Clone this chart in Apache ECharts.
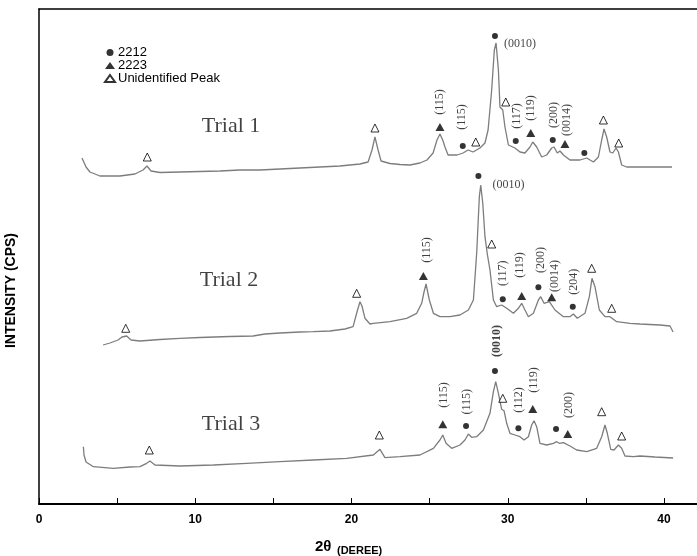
<!DOCTYPE html>
<html>
<head>
<meta charset="utf-8">
<script src="https://cdn.jsdelivr.net/npm/echarts@6/dist/echarts.min.js"></script>
<style>html,body{margin:0;padding:0;background:#fff;}#c{width:697px;height:556px;}</style>
</head>
<body>
<div id="c"></div>
<script>
// x: 2θ in degrees, y: intensity (arbitrary units, trials stacked with offsets)
const trial1 = [[2.75,346],[3.01,337],[3.26,332],[3.90,328],[5.18,328],[6.14,330],[6.66,334],[6.91,338],[7.17,333],[7.74,331.5],[9.02,332],[10.30,332.5],[11.58,333],[12.86,334],[14.14,334],[15.42,335],[16.70,336],[17.98,337],[19.26,338],[20.54,340],[21.06,342],[21.31,354],[21.50,367],[21.70,354],[21.89,343],[22.46,340.5],[23.10,339.5],[23.74,339],[24.38,341],[24.83,344],[25.22,351],[25.47,364],[25.66,370],[25.86,363],[25.98,357],[26.18,349],[26.75,349],[27.14,351],[27.46,354],[27.78,352],[28.22,356],[28.54,361],[28.74,374],[28.97,414],[29.14,454],[29.25,461],[29.40,434],[29.50,397],[29.68,394],[29.82,377],[30.04,359],[30.46,356],[30.78,352],[31.10,351],[31.42,357],[31.60,362],[31.85,357],[32.17,347],[32.49,349],[32.81,356],[32.96,357],[33.17,351],[33.34,353],[33.56,349],[33.98,344],[34.62,344],[35.05,346],[35.48,342],[35.80,347],[36.01,364],[36.16,375],[36.33,367],[36.54,352],[36.72,351],[36.93,356],[37.08,352],[37.29,339],[37.61,337],[38.46,337],[39.42,337],[40.51,337]];
const trial2 = [[4.10,159],[4.54,161],[5.06,164],[5.31,167],[5.61,168],[5.89,164],[6.46,163],[7.74,164.5],[9.02,165.7],[10.30,166.5],[12.22,167.5],[13.70,168],[14.46,170],[15.42,171],[16.70,172],[17.54,172.3],[18.62,173],[19.58,175],[20.10,177.3],[20.35,192],[20.54,202.3],[20.67,198],[20.86,185.7],[21.18,180],[21.40,180.7],[22.46,182.3],[23.53,185.7],[24.17,190.7],[24.49,200.7],[24.64,212],[24.77,220],[24.98,204],[25.24,190.7],[25.66,187.3],[26.30,187.3],[26.94,189],[27.48,194],[27.80,204],[28.01,250.7],[28.18,307.3],[28.27,319],[28.40,300.7],[28.54,267.3],[28.69,250],[28.86,234],[29.08,204],[29.29,197.3],[29.61,199],[29.93,195.7],[30.36,190.7],[30.68,195.7],[30.89,200.7],[31.10,194],[31.32,187.3],[31.64,190.7],[31.96,204],[32.11,207.3],[32.32,200.7],[32.66,202.3],[33.02,194],[33.56,187.3],[33.98,187.3],[34.20,190],[34.45,185.7],[34.94,190.7],[35.22,207.3],[35.39,225.7],[35.58,217.3],[35.86,194],[36.22,187.3],[36.54,187.3],[36.97,182.3],[37.82,180.7],[38.46,180],[39.74,179],[40.38,178],[40.58,172]];
const trial3 = [[2.84,57.3],[2.88,49],[3.01,42],[3.48,37.3],[4.76,35.7],[5.82,37],[6.46,37.3],[6.89,40.7],[7.10,43],[7.42,39],[9.02,38],[11.16,39],[13.29,40.7],[15.42,42.3],[17.56,44],[19.69,45.7],[21.40,49],[21.82,54.7],[22.14,46.3],[23.10,47.3],[24.38,49],[25.24,55.7],[25.66,64],[25.84,69],[26.05,60.7],[26.41,55.7],[26.94,59],[27.26,64],[27.48,70],[27.69,66.7],[28.01,67.3],[28.44,74],[28.86,90.7],[29.08,112.3],[29.23,122.3],[29.40,110.7],[29.61,94.7],[29.76,93.3],[29.93,80.7],[30.14,70.7],[30.46,69],[30.78,67.3],[31.04,64],[31.32,67.3],[31.53,79],[31.68,83.3],[31.85,77.3],[32.06,60.7],[32.49,59],[32.92,60.7],[33.13,62.3],[33.30,60.7],[33.56,61.3],[33.98,58],[34.41,54],[35.05,52.3],[35.69,55.7],[36.01,67.3],[36.22,79],[36.37,70.7],[36.59,54.7],[36.80,54],[37.08,59],[37.29,55.7],[37.50,48],[38.04,47.3],[38.46,48],[39.42,47],[40.58,46]];

// phase markers (all three trials)
const phase2212 = [[27.12,358],[29.18,468],[30.51,363],[32.88,364],[34.90,351],
  [28.12,328],[29.68,204.7],[31.96,216.7],[34.16,197.3],
  [27.33,78],[29.18,133],[30.68,75.7],[33.09,75]];
const phase2223 = [[25.66,377],[31.47,371],[33.66,360],
  [24.60,228],[30.89,208],[32.81,206.7],
  [25.84,79.7],[31.60,95],[33.84,70]];
const unidentified = [[6.93,347],[21.50,376],[27.95,362],[29.87,402],[36.12,384],[37.10,361],
  [5.55,175.7],[20.33,210.7],[28.97,260],[35.37,235.7],[36.65,195.7],
  [7.06,54],[21.78,69],[29.68,105.7],[36.01,92.3],[37.29,68]];

// Miller index annotations
const rotatedLabels = [[25.66,402,'(115)'],[27.05,387,'(115)'],[30.57,388,'(117)'],[31.49,396,'(119)'],[32.98,389,'(200)'],[33.77,384,'(0014)'],
  [24.81,254,'(115)'],[29.68,230.7,'(117)'],[30.78,239,'(119)'],[32.13,244,'(200)'],[33.02,228,'(0014)'],[34.20,222.3,'(204)'],
  [25.88,109,'(115)'],[27.37,102.3,'(115)'],[30.74,104,'(112)'],[31.64,124,'(119)'],[33.94,99,'(200)']];
const boldRotatedLabels = [[29.29,163,'(0010)']];
const flatLabels = [[30.78,460,'(0010)'],[30.04,319,'(0010)']];

const trialNames = ['Trial 1','Trial 2','Trial 3'];
const trialLabelPos = [[12.29,378],[12.16,224],[12.29,80]];

const xTickLabels = [0,10,20,30,40];

const serif = "'Liberation Serif','Times New Roman',serif";
const sans = "'Liberation Sans',Arial,sans-serif";

const chart = echarts.init(document.getElementById('c'), null, {renderer:'canvas'});

function traceSeries(name, data){
  return {name, type:'line', data, showSymbol:false, symbol:'none', silent:true,
    lineStyle:{color:'#7d7d7d', width:1.3}, z:2};
}
function labelSeries(arr, rotate, extra){
  return {type:'scatter', silent:true, symbolSize:1, itemStyle:{color:'rgba(0,0,0,0)'}, z:5,
    data: arr.map(d=>({value:[d[0],d[1]], name:d[2]})),
    label:Object.assign({show:true, position:'inside', formatter:'{b}', rotate, color:'#111',
      fontFamily:serif, fontSize:12}, extra||{})};
}

chart.setOption({
  animation:false,
  backgroundColor:'#fff',
  grid:{left:39, right:0, top:9, bottom:52},
  legend:{
    data:['2212','2223','Unidentified Peak'],
    orient:'vertical', left:99, top:41, itemWidth:10, itemHeight:7, itemGap:0,
    textStyle:{fontFamily:sans, fontSize:13, color:'#000', lineHeight:12, padding:[0,0,0,-2]},
    selectedMode:false
  },
  xAxis:[{type:'value', min:0, max:42.11, interval:5, position:'bottom',
    axisLine:{show:true, onZero:false, lineStyle:{color:'#000', width:2}},
    axisTick:{show:true, inside:true, length:6, lineStyle:{color:'#000', width:1}},
    axisLabel:{showMaxLabel:false, margin:10, fontFamily:sans, fontSize:12, fontWeight:'bold', color:'#000',
      formatter:v=> xTickLabels.includes(v) ? String(v) : ''},
    splitLine:{show:false}},
    {type:'value', min:0, max:42.11, position:'top',
    axisLine:{show:true, onZero:false, lineStyle:{color:'#000', width:1.5}},
    axisTick:{show:false}, axisLabel:{show:false}, splitLine:{show:false}}],
  yAxis:{type:'value', min:0, max:495, position:'left',
    axisLine:{show:true, onZero:false, lineStyle:{color:'#000', width:1.5}},
    axisTick:{show:false}, axisLabel:{show:false}, splitLine:{show:false}},
  graphic:[
    {type:'text', left:4, top:233, style:{text:'INTENSITY (CPS)', fontFamily:sans, fontSize:14, fontWeight:'bold', fill:'#000'}, rotation:Math.PI/2, silent:true},
    {type:'text', left:315, top:539, style:{text:'2θ', fontFamily:sans, fontSize:15, fontWeight:'bold', fill:'#000'}, silent:true},
    {type:'text', left:337, top:545, style:{text:'(DEREE)', fontFamily:sans, fontSize:11, fontWeight:'bold', fill:'#000'}, silent:true}
  ],
  series:[
    traceSeries('Trial 1 trace', trial1),
    traceSeries('Trial 2 trace', trial2),
    traceSeries('Trial 3 trace', trial3),
    {name:'2212', type:'scatter', data:phase2212, symbol:'circle', symbolSize:6, silent:true, z:4,
      itemStyle:{color:'#000'}},
    {name:'2223', type:'scatter', data:phase2223, symbol:'triangle', symbolSize:[9,8], silent:true, z:4,
      itemStyle:{color:'#000'}},
    {name:'Unidentified Peak', type:'scatter', data:unidentified, symbol:'triangle', symbolSize:[8,8], silent:true, z:4,
      itemStyle:{color:'#fff', borderColor:'#000', borderWidth:1}},
    labelSeries(rotatedLabels, 90),
    labelSeries(boldRotatedLabels, 90, {fontWeight:'bold'}),
    labelSeries(flatLabels, 0),
    {type:'scatter', silent:true, symbolSize:1, itemStyle:{color:'rgba(0,0,0,0)'}, z:5,
      data: trialLabelPos.map((p,i)=>({value:p, name:trialNames[i]})),
      label:{show:true, position:'inside', formatter:'{b}', color:'#111', fontFamily:serif, fontSize:22}}
  ]
});
</script>
</body>
</html>
